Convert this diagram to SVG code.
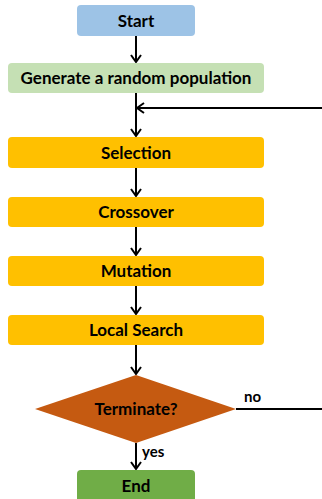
<svg xmlns="http://www.w3.org/2000/svg" width="322" height="499" viewBox="0 0 322 499">
  <defs>
    <marker id="arrow" viewBox="0 0 12 12" refX="11" refY="6" markerWidth="12" markerHeight="12" markerUnits="userSpaceOnUse" orient="auto">
      <path d="M4,1 L11,6 L4,11" fill="none" stroke="#000" stroke-width="2"/>
    </marker>
  </defs>
  <style>
    .lbl { font-family: Lato, "Open Sans", "Liberation Sans", sans-serif; font-weight: bold; font-size: 17px; fill: #000; text-anchor: middle; }
    .edge { font-family: Lato, "Open Sans", "Liberation Sans", sans-serif; font-weight: bold; font-size: 15px; fill: #000; }
    .conn { fill: none; stroke: #000; stroke-width: 2; }
    .step { fill: #FFC000; }
  </style>

  <g id="connectors">
    <line class="conn" x1="136" y1="36" x2="136" y2="62" marker-end="url(#arrow)"/>
    <line class="conn" x1="136" y1="93" x2="136" y2="136" marker-end="url(#arrow)"/>
    <line class="conn" x1="136" y1="168" x2="136" y2="196" marker-end="url(#arrow)"/>
    <line class="conn" x1="136" y1="227" x2="136" y2="255" marker-end="url(#arrow)"/>
    <line class="conn" x1="136" y1="286" x2="136" y2="314" marker-end="url(#arrow)"/>
    <line class="conn" x1="136" y1="345" x2="136" y2="374" marker-end="url(#arrow)"/>
    <line class="conn" x1="136" y1="443" x2="136" y2="469" marker-end="url(#arrow)"/>
    <!-- loop back from "no" to the selection stage -->
    <line class="conn" x1="236" y1="409" x2="322" y2="409"/>
    <line class="conn" x1="322" y1="108" x2="137" y2="108" marker-end="url(#arrow)"/>
    <text class="edge" x="244" y="402">no</text>
    <text class="edge" x="142" y="457">yes</text>
  </g>

  <g id="start">
    <rect x="77" y="5" width="118" height="31" rx="4" fill="#9DC3E6"/>
    <text class="lbl" x="136" y="26.5">Start</text>
  </g>
  <g id="init">
    <rect x="8" y="63" width="256" height="30" rx="4" fill="#C5E0B4"/>
    <text class="lbl" x="136" y="84">Generate a random population</text>
  </g>
  <g id="selection">
    <rect class="step" x="8" y="137" width="256" height="31" rx="4"/>
    <text class="lbl" x="136" y="158.5">Selection</text>
  </g>
  <g id="crossover">
    <rect class="step" x="8" y="197" width="256" height="30" rx="4"/>
    <text class="lbl" x="136" y="218">Crossover</text>
  </g>
  <g id="mutation">
    <rect class="step" x="8" y="256" width="256" height="30" rx="4"/>
    <text class="lbl" x="136" y="277">Mutation</text>
  </g>
  <g id="local-search">
    <rect class="step" x="8" y="315" width="256" height="30" rx="4"/>
    <text class="lbl" x="136" y="336">Local Search</text>
  </g>
  <g id="terminate">
    <polygon points="136,375 236,409 136,443 35,409" fill="#C55A11"/>
    <text class="lbl" x="136" y="415">Terminate?</text>
  </g>
  <g id="end">
    <rect x="77" y="470" width="118" height="32" rx="4" fill="#70AD47"/>
    <text class="lbl" x="136" y="492">End</text>
  </g>
</svg>
